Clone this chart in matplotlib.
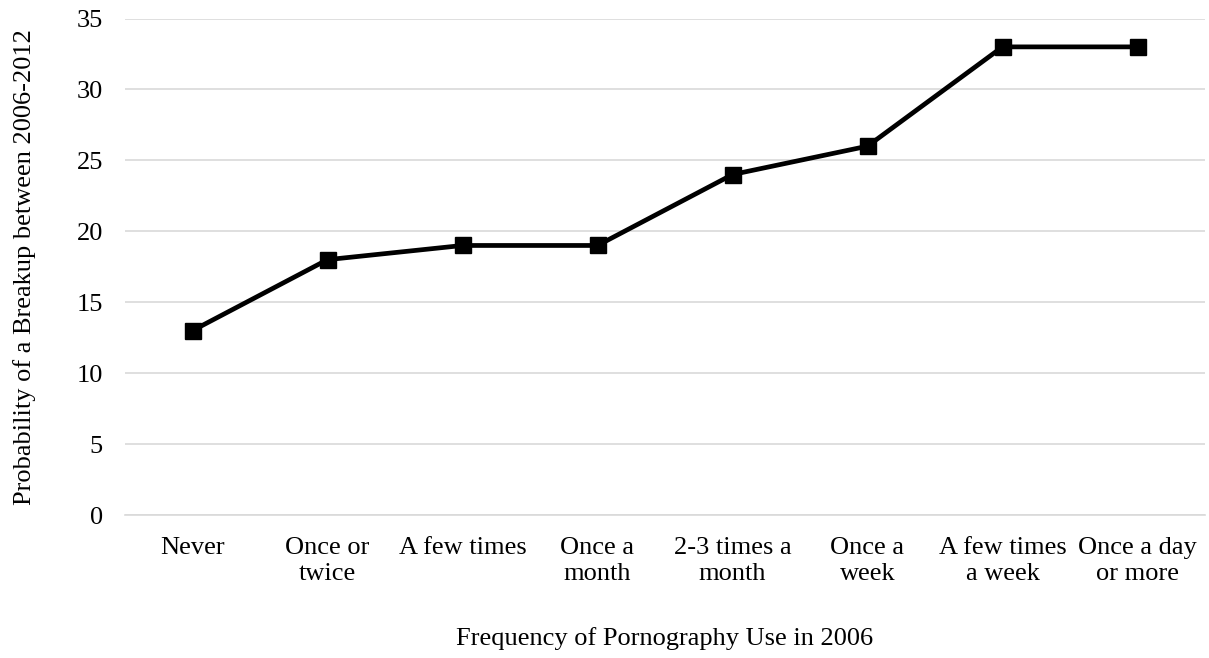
import matplotlib.pyplot as plt

plt.rcParams['font.family'] = ['Liberation Serif', 'DejaVu Serif']

categories = ["Never", "Once or\ntwice", "A few times", "Once a\nmonth", "2-3 times a\nmonth",
              "Once a\nweek", "A few times\na week", "Once a day\nor more"]
values = [13, 18, 19, 19, 24, 26, 33, 33]
yticks = [0, 5, 10, 15, 20, 25, 30, 35]

fig = plt.figure(figsize=(12.09, 6.58), dpi=100)
ax = fig.add_axes([125 / 1209, 1 - 515 / 658, 1080 / 1209, 496.5 / 658])

x = list(range(len(categories)))
ax.plot(x, values, color='black', linewidth=3.4, marker='s', markersize=12, zorder=3)

ax.set_xlim(-0.5, len(categories) - 0.5)
ax.set_ylim(0, 35)
ax.set_yticks(yticks)
ax.set_xticks(x)
ax.set_xticklabels(categories, fontsize=19, va='top', linespacing=1.22)
ax.tick_params(axis='y', labelsize=19, length=0, pad=16)
ax.tick_params(axis='x', length=0, pad=16)
ax.grid(axis='y', color='#d9d9d9', linewidth=1.2)
ax.set_axisbelow(True)
for side in ['top', 'right', 'left']:
    ax.spines[side].set_visible(False)
ax.spines['bottom'].set_color('#d9d9d9')
ax.spines['bottom'].set_linewidth(1.2)

ax.set_ylabel("Probability of a Breakup between 2006-2012", fontsize=19, labelpad=29)
ax.set_xlabel("Frequency of Pornography Use in 2006", fontsize=19, labelpad=30)

fig.savefig("out.png", dpi=100)
